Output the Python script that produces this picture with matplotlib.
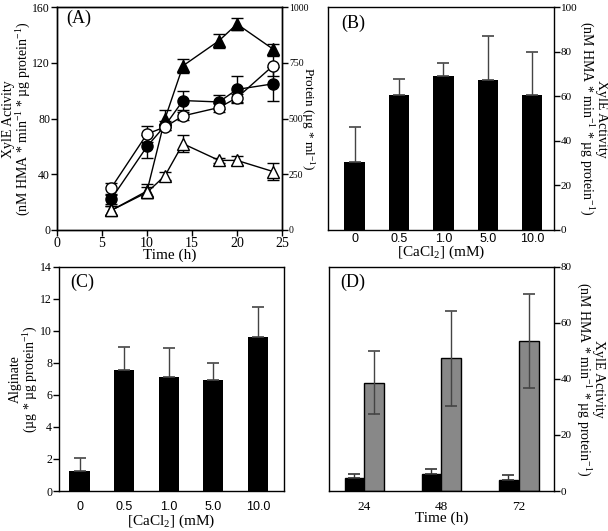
import matplotlib
matplotlib.use("Agg")
import matplotlib.pyplot as plt
import numpy as np

plt.rcParams['font.family'] = ['Liberation Serif', 'DejaVu Serif']
plt.rcParams['mathtext.fontset'] = 'custom'
plt.rcParams['mathtext.rm'] = 'Liberation Serif'
plt.rcParams['mathtext.it'] = 'Liberation Serif:italic'
plt.rcParams['axes.linewidth'] = 1.0

# ---- Panel A data ----
time_a = [6, 10, 12, 14, 18, 20, 24]
open_circ = [30, 69, 74, 82, 88, 95, 118]
open_circ_err = [4, 6, 2, 3, 3, 3, 7]
fill_circ = [22, 60, 75, 93, 92, 101, 105]
fill_circ_err = [3, 8, 3, 7, 5, 10, 12]
fill_tri = [14, 28, 80, 118, 136, 148, 130]
fill_tri_err = [3, 5, 6, 5, 5, 4, 4]
open_tri = [14, 27, 39, 62, 50, 50, 42]
open_tri_err = [3, 4, 3, 6, 2, 3, 6]

# ---- Panel B data ----
cacl2 = ['0', '0.5', '1.0', '5.0', '10.0']
xyle_b = [30.7, 60.5, 69.0, 67.4, 60.8]
xyle_b_err = [15.5, 7.2, 5.9, 19.7, 19.2]

# ---- Panel C data ----
alginate = [1.25, 7.55, 7.11, 6.93, 9.63]
alginate_err = [0.8, 1.44, 1.81, 1.04, 1.85]

# ---- Panel D data ----
time_d = ['24', '48', '72']
d_black = [4.5, 6.1, 3.9]
d_black_err = [1.4, 1.9, 1.7]
d_gray = [38.6, 47.3, 53.5]
d_gray_err = [11.3, 17.0, 16.8]

fig = plt.figure(figsize=(6.08, 5.31), dpi=100)

W = 0.37
axA = fig.add_axes([0.0938, 0.5669, W, 0.4193])
axB = fig.add_axes([0.5395, 0.5669, 0.3717, 0.4193])
axC = fig.add_axes([0.0970, 0.0753, W, 0.4224])
axD = fig.add_axes([0.5411, 0.0753, W, 0.4224])

tick_kw = dict(direction='out', length=4, width=1)
LBL = 10
xyle_label = 'XylE Activity\n(nM HMA * min$^{\\mathregular{-1}}$ * µg protein$^{\\mathregular{-1}}$)'

# ---- Panel A ----
lk = dict(color='black', lw=1.0, markersize=8, capsize=4, elinewidth=1.0,
          capthick=1.0, markeredgecolor='black', markeredgewidth=1.0)
axA.errorbar(time_a, fill_tri, yerr=fill_tri_err, marker='^', markerfacecolor='black', **lk)
axA.errorbar(time_a, open_tri, yerr=open_tri_err, marker='^', markerfacecolor='white', **lk)
axA.errorbar(time_a, fill_circ, yerr=fill_circ_err, marker='o', markerfacecolor='black', **lk)
axA.errorbar(time_a, open_circ, yerr=open_circ_err, marker='o', markerfacecolor='white', **lk)
axA.set_xlim(0, 25)
axA.set_ylim(0, 160)
axA.set_xticks([0, 5, 10, 15, 20, 25])
axA.set_yticks([0, 40, 80, 120, 160])
axA.tick_params(axis='x', labelsize=10, pad=1, **tick_kw)
axA.tick_params(axis='y', labelsize=8.5, pad=1, **tick_kw)
axA.set_xlabel('Time (h)', fontsize=11, labelpad=-1)
axA.set_ylabel(xyle_label, fontsize=LBL, labelpad=-0.5, linespacing=1.0)
axA.text(0.04, 0.95, '(A)', transform=axA.transAxes, fontsize=13, va='center', ha='left')
axA2 = axA.twinx()
axA2.set_ylim(0, 1000)
axA2.set_yticks([0, 250, 500, 750, 1000])
axA2.tick_params(axis='y', labelsize=7, pad=1, **tick_kw)
axA2.set_ylabel('Protein (µg * ml$^{\\mathregular{-1}}$)', fontsize=9.5, rotation=270, labelpad=6)

# ---- Panel B ----
xb = np.arange(len(cacl2))
axB.bar(xb, xyle_b, width=0.46, color='black')
axB.errorbar(xb, xyle_b, yerr=[np.zeros(len(xb)), xyle_b_err], fmt='none',
             ecolor='#444444', elinewidth=1.0, capsize=4, capthick=1.2)
axB.set_xlim(-0.6, 4.49)
axB.set_ylim(0, 100)
axB.set_xticks(xb)
axB.set_xticklabels(cacl2, family=['Liberation Sans'])
axB.tick_params(axis='x', length=0, labelsize=9, pad=2)
axB.yaxis.tick_right()
axB.yaxis.set_label_position('right')
axB.set_yticks([0, 20, 40, 60, 80, 100])
axB.tick_params(axis='y', labelsize=8, pad=1, **tick_kw)
axB.set_xlabel('[CaCl$_{\\mathregular{2}}$] (mM)', fontsize=11, labelpad=-1)
axB.set_ylabel(xyle_label, fontsize=LBL, rotation=270, labelpad=22, linespacing=1.0)
axB.text(0.06, 0.93, '(B)', transform=axB.transAxes, fontsize=13, va='center', ha='left')

# ---- Panel C ----
xc = np.arange(len(cacl2))
axC.bar(xc, alginate, width=0.45, color='black')
axC.errorbar(xc, alginate, yerr=[np.zeros(len(xc)), alginate_err], fmt='none',
             ecolor='#444444', elinewidth=1.0, capsize=4, capthick=1.2)
axC.set_xlim(-0.46, 4.58)
axC.set_ylim(0, 14)
axC.set_xticks(xc)
axC.set_xticklabels(cacl2, family=['Liberation Sans'])
axC.tick_params(axis='x', length=0, labelsize=9, pad=7)
axC.set_yticks(np.arange(0, 15, 2))
axC.tick_params(axis='y', labelsize=8.5, pad=1, **tick_kw)
axC.set_xlabel('[CaCl$_{\\mathregular{2}}$] (mM)', fontsize=11, labelpad=0)
axC.set_ylabel('Alginate\n(µg * µg protein$^{\\mathregular{-1}}$)', fontsize=LBL, labelpad=0, linespacing=1.0)
axC.text(0.05, 0.93, '(C)', transform=axC.transAxes, fontsize=13, va='center', ha='left')

# ---- Panel D ----
xd = np.arange(len(time_d))
off = 0.13
axD.bar(xd - off, d_black, width=0.25, color='black', edgecolor='black', lw=1)
axD.bar(xd + off, d_gray, width=0.26, color='#888888', edgecolor='black', lw=1)
axD.errorbar(xd - off, d_black, yerr=[np.zeros(len(xd)), d_black_err], fmt='none',
             ecolor='#333333', elinewidth=1.0, capsize=4, capthick=1.2)
axD.errorbar(xd + off, d_gray, yerr=d_gray_err, fmt='none',
             ecolor='#444444', elinewidth=1.0, capsize=4, capthick=1.2)
axD.set_xlim(-0.46, 2.46)
axD.set_ylim(0, 80)
axD.set_xticks(xd)
axD.set_xticklabels(time_d)
axD.tick_params(axis='x', length=0, labelsize=9.5, pad=7)
axD.yaxis.tick_right()
axD.yaxis.set_label_position('right')
axD.set_yticks([0, 20, 40, 60, 80])
axD.tick_params(axis='y', labelsize=8, pad=1, **tick_kw)
axD.set_xlabel('Time (h)', fontsize=11, labelpad=-1)
axD.set_ylabel(xyle_label, fontsize=LBL, rotation=270, labelpad=24, linespacing=1.0)
axD.text(0.05, 0.93, '(D)', transform=axD.transAxes, fontsize=13, va='center', ha='left')

fig.savefig('out.png', dpi=100)
